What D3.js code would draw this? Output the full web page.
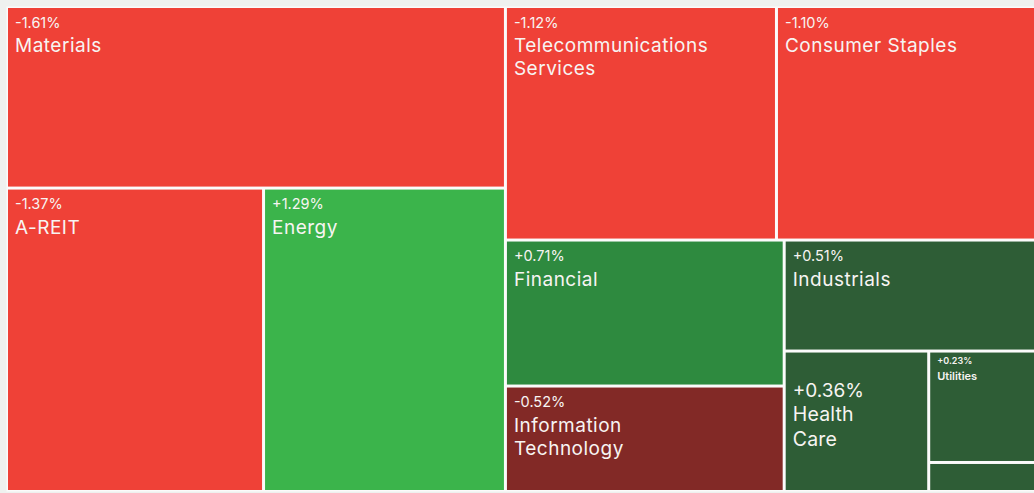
<!DOCTYPE html>
<html>
<head>
<meta charset="utf-8">
<script src="https://cdn.jsdelivr.net/npm/d3@7"></script>
<style>
  html, body { margin: 0; padding: 0; background: #eff1ef; overflow: hidden; }
  svg { display: block; }
  text { font-family: Inter, "Noto Sans", sans-serif; fill: #f7f4f2; }
</style>
</head>
<body>
<svg id="chart" width="1034" height="493"></svg>
<script>
// ---- data ----
const sectors = ["Materials", "A-REIT", "Energy", "Telecommunications Services", "Consumer Staples",
                 "Financial", "Information Technology", "Industrials", "Health Care", "Utilities", "Consumer Discretionary"];
const labelLines = ["Materials", "A-REIT", "Energy", "Telecommunications\nServices", "Consumer Staples",
                 "Financial", "Information\nTechnology", "Industrials", "Health\nCare", "Utilities", ""];
const weights = [90.6, 78.0, 73.4, 63.3, 60.5, 40.7, 29.4, 27.9, 20.3, 11.9, 3.1];
const changes = [-1.61, -1.37, 1.29, -1.12, -1.10, 0.71, -0.52, 0.51, 0.36, 0.23, 0.30];
// grouping (nested tiling structure): index paths into the sector list
const groupTree = [[0, [1, 2]], [[3, 4], [[5, 6], [7, [8, [9, 10]]]]]];

// ---- build hierarchy ----
function build(node, depth) {
  if (typeof node === "number") {
    return { name: sectors[node], label: labelLines[node], value: weights[node], change: changes[node] };
  }
  return { depth, children: node.map(n => build(n, depth + 1)) };
}
const rootData = build(groupTree, 0);

const x0 = 8, y0 = 8, x1 = 1034, y1 = 490;

// alternate horizontal / vertical splits by nesting level
const tile = (node, a, b, c, d) => {
  if (node.depth % 2 === 0) d3.treemapDice(node, a, b, c, d);
  else d3.treemapSlice(node, a, b, c, d);
};

const root = d3.hierarchy(rootData).sum(d => d.value || 0);
d3.treemap()
  .size([x1 - x0, y1 - y0])
  .tile(tile)
  .paddingInner(3)
  .round(false)(root);

const color = v => {
  if (v <= -1) return "#ef4137";
  if (v < 0) return "#822926";
  if (v >= 1) return "#3bb44b";
  if (v >= 0.6) return "#2e8a3f";
  return "#2e5d36";
};

const svg = d3.select("#chart");
svg.append("rect").attr("x", x0 - 1.5).attr("y", y0 - 1.5)
  .attr("width", x1 - x0 + 3).attr("height", y1 - y0 + 3).attr("fill", "#fbfbfb");

const g = svg.append("g").attr("transform", `translate(${x0},${y0})`);
const leaves = g.selectAll("g.cell").data(root.leaves()).join("g")
  .attr("class", "cell")
  .attr("transform", d => `translate(${d.x0},${d.y0})`);

leaves.append("rect")
  .attr("width", d => d.x1 - d.x0)
  .attr("height", d => d.y1 - d.y0)
  .attr("fill", d => color(d.data.change));

const fmt = v => (v > 0 ? "+" : "-") + Math.abs(v).toFixed(2) + "%";

leaves.each(function(d) {
  const w = d.x1 - d.x0, h = d.y1 - d.y0;
  if (h < 40) return;
  const sel = d3.select(this);
  let s;
  if (w < 120) s = { dx: 7, pctY: 11.5, pctSize: 9, nameY: 27.5, nameSize: 11, lh: 13, weight: 600, ls: 0 };
  else if (w < 170) s = { dx: 7, pctY: 44, pctSize: 19, nameY: 68.5, nameSize: 19.5, lh: 24.5, weight: 400, ls: 0.2 };
  else s = { dx: 7, pctY: 19.5, pctSize: 14.5, nameY: 44, nameSize: 19, lh: 23, weight: 400, ls: 0.5 };
  sel.append("text").attr("x", s.dx).attr("y", s.pctY)
    .attr("font-size", s.pctSize).attr("font-weight", s.weight).text(fmt(d.data.change));
  const t = sel.append("text").attr("x", s.dx).attr("y", s.nameY)
    .attr("font-size", s.nameSize).attr("font-weight", s.weight)
    .attr("letter-spacing", s.ls);
  d.data.label.split("\n").forEach((line, i) => {
    t.append("tspan").attr("x", s.dx).attr("dy", i === 0 ? 0 : s.lh).text(line);
  });
});
</script>
</body>
</html>
